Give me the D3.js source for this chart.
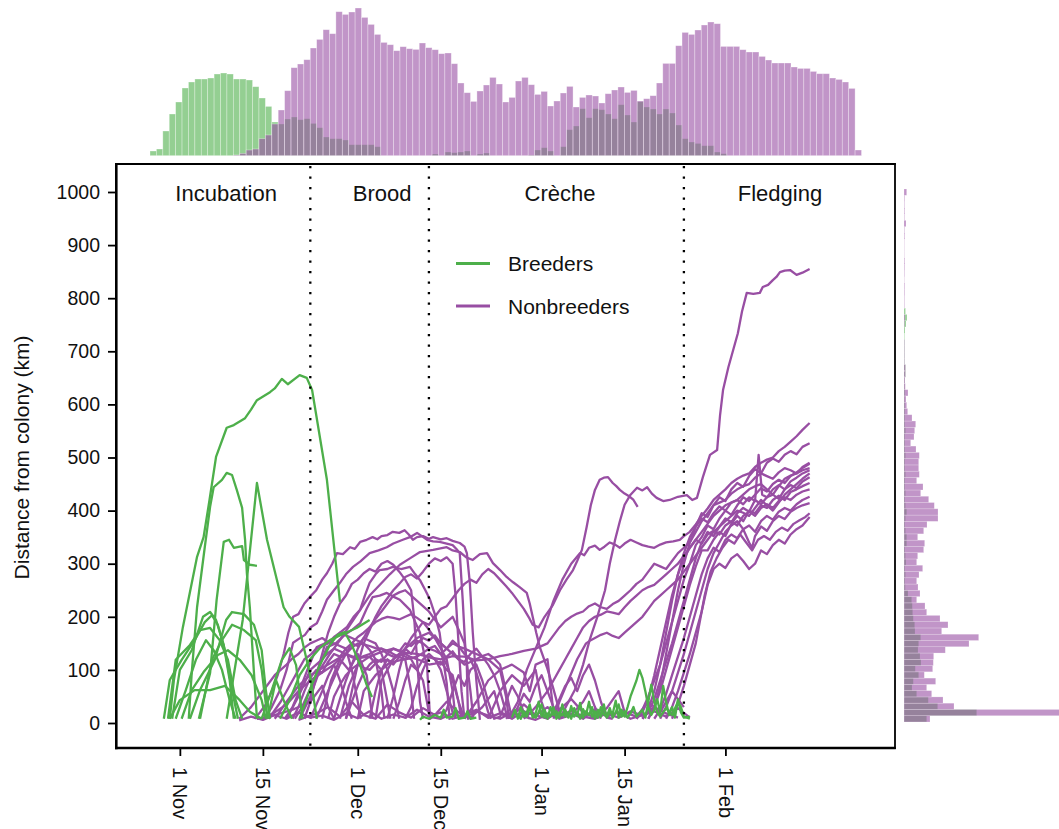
<!DOCTYPE html>
<html>
<head>
<meta charset="utf-8">
<title>Distance from colony</title>
<script src="https://d3js.org/d3.v7.min.js"></script>
<style>
  body { margin: 0; background: #fff; }
  svg text { font-family: "Liberation Sans", Arial, Helvetica, sans-serif; fill: #111; }
</style>
</head>
<body>
<script>
// ---- axis / annotation data ----
var tickDays = [0, 14, 30, 44, 61, 75, 92];          // days since 1 Nov
var tickLabels = ["1 Nov", "15 Nov", "1 Dec", "15 Dec", "1 Jan", "15 Jan", "1 Feb"];
var yTicks = [0, 100, 200, 300, 400, 500, 600, 700, 800, 900, 1000];
var phaseBounds = [22, 42, 85];
var phaseNames = ["Incubation", "Brood", "Crèche", "Fledging"];
var phaseLabelDays = [7.8, 34.1, 64.1, 101.2];
var legendNames = ["Breeders", "Nonbreeders"];

// ---- top marginal histogram (daily bins, first bin = day -4) ----
var topStartDay = -4;
var breedersTop = [4.7,6.7,24.7,41.7,53.7,67.7,73.7,76.7,76.7,77.7,81.7,82.7,81.7,76.7,76.7,75.7,69,57.7,49.3,33.7,
  31.7,36.7,38.7,36,37,32.3,28,18.7,17,17,15.7,11,11,11,11,9,0,0,0,0,
  0,0,0,0,1.7,0,3.7,3,3.7,4.7,0,1.7,2.7,0,0,0,0,0,0,0.7,
  5.7,8,4.7,0,9,26,29.7,47,38,47,46,41.7,37,51,40.7,33.7,54,48.7,46.7,41.7,
  46.7,42.7,30.7,17,13.7,12.3,10,10,3.7,2,0,0,0,0,0,0,0,0,0,0,
  0,0,0,0,0,0,0,0,0,0,0];
var nonbreedersTop = [0,0,0,0,0,0,0,0,0,0,0,0,0,0.7,2.3,5.7,6.7,17,20.7,31.7,
  45.7,65,88,91.7,96,107.7,116.3,126,122,144,141.3,143.7,147.7,138.3,131.3,121.3,113.3,111,105,109,
  107,106.3,112.7,108,106,102,102.7,92,72.7,63,54.3,64.7,70.7,78.3,71.7,53.7,58.3,74.7,78.3,71,
  61.3,64.3,49.7,54.7,62.7,69.3,48.7,58.3,60.7,59.7,52.7,62,65.7,68.7,63.3,65.3,54.7,57,60,72.7,
  92.3,92.3,110,123.3,121.3,125.7,130.7,133.7,132,109.3,109.3,109.3,106,103.7,103.7,99.3,95.7,92.7,92.7,92.7,
  88.7,87.3,87.3,84.3,82,82,77.7,76.3,73.7,67.3,5.7];

// ---- right marginal histogram (10 km bins from 0 km) ----
var breedersRight = [22.7,72.7,33.7,24.3,12.7,8,9.3,14.7,11.3,17,16,14,14.7,16.7,11,10.7,9.3,8.7,8.3,7.7,
  4,1.3,1,1.5,1,2,1.5,1,2.7,2.7,1.5,1,1.5,2.7,1.5,1,1.5,1,1,1.5,
  1,1,1.5,1,1,1,1.5,1,1,1,1,0.7,1,0.7,0.7,1.5,1.5,0.5,0.5,0.5,
  0.5,0.5,1,2,3,1.5,0,0,0,0,0,0,0,0,0,0,0,0,0,0,0,0,0,0,0];
var nonbreedersRight = [26,160,50,39,27.7,22.7,31.7,20.3,28.7,29.3,29.7,41.3,65,74.7,37.7,44,36,22.7,21,12.7,
  16,14,12.7,15,18.7,12.7,13.7,19.7,20.7,13.7,19.7,23,34,34,30.3,24.7,16.7,19,12.7,15.3,
  14.7,14.7,15.3,12,6.7,10,10.7,11.7,8,3.7,2.7,2,4,1.3,1,1.5,1.5,0.5,0.5,0.5,
  0.5,0,0,0.5,1,0,0.5,0.5,0.7,0.7,0.3,0.5,0.7,0.7,0.3,0.3,0.3,0.7,0.5,2,0.5,0.7,0.5,0.7,2.7];

// ---- breeder tracks [day since 1 Nov, km] ----
var b1 = [[-1.7,8],[-1,81],[0.5,180],[2.9,313],[4,350],[5,420],[6.1,501],[7.9,556],[9.1,561],[11,574],[12,590],[13,608],[15.2,623],[16,630],[17.2,648],[18.2,638],[20.2,655],[21.4,650],[22.3,627],[24.8,458],[27,228]];
var b2 = [[1.5,8],[2,94],[2.9,218],[4.2,331],[5.1,407],[5.7,444],[7.1,458],[7.9,471],[8.8,467],[9.6,439],[10.5,405],[11,345],[11.3,282],[11.8,218],[12.5,94],[13,8]];
var b3 = [[7.9,8],[10.6,194],[13,452],[14.7,345],[17.5,218],[18.5,200],[20.1,181],[21.9,94],[23.1,8]];
var b4 = [[3.2,8],[5.1,94],[6.2,232],[7.4,341],[8.3,345],[9.1,330],[10.5,333],[10.8,307],[11.8,298],[13,296]];
var b5 = [[-2.7,8],[-1.7,81],[0.3,119],[2.5,156],[4.2,190],[5.4,203],[6.4,185],[7.6,137],[8.8,62],[9.8,8]];
var b6 = [[-2,8],[-0.7,119],[1.7,147],[3.4,175],[5.1,179],[6.7,156],[8.1,119],[9.4,43],[10.5,8]];
var b7 = [[-1.3,8],[0,100],[2,137],[3.9,200],[5.1,209],[6.1,194],[7.4,147],[8.4,81],[9.1,8]];
var b8 = [[-0.7,8],[1,62],[2.7,119],[4.4,156],[5.7,137],[7.1,100],[8.4,43],[9.4,8]];
var b9 = [[1.7,8],[3.4,62],[5.9,119],[7.8,194],[8.8,209],[10.8,205],[12.5,185],[13.8,137],[14.5,62],[15.2,8]];
var b10 = [[3.4,8],[5.4,119],[7.1,156],[8.8,185],[10.8,175],[12.8,156],[13.8,100],[14.8,8]];
var b11 = [[0.3,8],[2,62],[4,96],[6.4,128],[8.1,137],[10.1,119],[12.1,90],[13.8,43],[14.5,8]];
var b12 = [[-1.7,8],[0,43],[2.5,62],[5.1,62],[7.6,70],[10.1,43],[11.8,21],[13.8,8]];
var b13 = [[13.8,8],[15.5,62],[17.2,119],[18.5,141],[19.6,109],[20.7,8]];
var b14 = [[16.9,8],[18.5,43],[20.2,90],[21.9,119],[23.6,141],[25.3,156],[27.8,169],[29.8,179],[32,194]];
var b15 = [[20.2,8],[21.9,62],[23.6,109],[25.3,147],[26.6,166],[27.8,171],[29,147],[30.4,109],[31.5,72],[32.4,49]];
var b16 = [[14.8,8],[16.2,81],[17.5,43],[18.9,8]];
var b17 = [[40.5,6],[41,12],[42,8],[43,15],[44,10],[44.5,25],[45,10],[46,12],[46.5,28],[47,8],[48,10],[48.5,22],[49,8],[50,10]];
var b18 = [[56,10],[56.5,25],[57,8],[57.5,30],[58,12],[58.5,20],[59,35],[59.5,10],[60,18],[60.5,40],[61,12],[61.5,25],[62,8],[62.5,30],[63,15],[63.5,22],[64,10],[64.5,35],[65,12],[65.5,20],[66,8],[66.5,28],[67,14],[67.5,38],[68,10],[68.5,22],[69,15],[69.5,30],[70,8],[70.5,25],[71,12],[71.5,35],[72,10],[72.5,20],[73,18],[73.5,42],[74,10],[74.5,25],[75,12],[75.5,30],[76,50],[77,80],[77.5,100],[78,85],[78.5,60],[79,30],[79.5,15],[80,25],[80.5,45],[81,20],[81.5,70],[82,40],[82.5,15],[83,30],[83.5,10],[84,45],[84.5,20],[85,10],[86,12]];
var b19 = [[57,15],[57.5,8],[58,22],[58.5,12],[59,28],[59.5,15],[60,10],[60.5,20],[61,35],[61.5,10],[62,18],[62.5,12],[63,30],[63.5,8],[64,20],[64.5,14],[65,25],[65.5,10],[66,32],[66.5,12],[67,20],[67.5,8],[68,26],[68.5,15],[69,40],[69.5,12],[70,22],[70.5,10],[71,30],[71.5,16],[72,12],[72.5,28],[73,10],[73.5,20],[74,35],[74.5,12],[75,22],[75.5,10],[76,18],[76.5,30],[77,12],[78,25],[78.5,10],[79,40],[79.5,72],[80,40],[80.5,20],[81,12],[82,28],[83,15],[84,40],[84.5,30],[85,12],[86,8]];
var breederTracks = [b1,b2,b3,b4,b5,b6,b7,b8,b9,b10,b11,b12,b13,b14,b15,b16,b17,b18,b19];

// ---- nonbreeder tracks [day since 1 Nov, km] ----
var n1 = [[12.6,8],[13.5,20],[14.5,35],[15.5,60],[16.5,90],[17.5,130],[18.3,170],[19.1,200],[20,205],[21,225],[21.9,237],[23,250],[24,270],[24.8,282],[25.7,300],[26.5,320],[27.5,318],[28.7,331],[29.5,328],[30.4,341],[31.5,345],[32.5,350],[33.3,346],[34,352],[35,354],[35.9,360],[37,358],[37.9,363],[38.6,355],[39.3,345],[40,350],[41,352],[42,347],[42.7,350],[44,346],[45,348],[46,343],[47.2,339],[48,332],[48.4,320],[48.9,264],[49.4,170],[50,80],[50.6,6]];
var n2 = [[14.3,8],[15.5,30],[16.9,62],[18,100],[19.1,151],[20,158],[21.1,166],[22,180],[23.1,188],[24,210],[24.8,232],[26,250],[27,264],[28,280],[29.2,294],[30.5,305],[32,320],[33.5,325],[34.9,331],[36,338],[37.6,345],[38.8,350],[40,358],[40.8,352],[41.7,345],[42.7,342],[43.8,341],[45,338],[46,335],[46.6,328],[47.2,320],[47.7,232],[48.1,150],[48.4,105],[48.6,6]];
var n3 = [[17.7,8],[19,30],[20.2,62],[21.5,100],[23.1,143],[24.5,150],[25.8,156],[27,170],[28.2,181],[29.3,200],[30.4,213],[31.2,240],[32,264],[33,280],[33.7,288],[35,290],[35.9,294],[37.3,290],[38.8,294],[39.7,280],[40.5,269],[41.4,250],[42.2,232],[43,205],[43.8,170],[44.4,120],[45,75],[45.5,6]];
var n4 = [[19.4,8],[20.6,30],[21.9,62],[23.3,100],[24.8,143],[26.3,150],[27.8,166],[29,175],[30.4,188],[31.5,215],[32.5,237],[33.7,240],[34.9,245],[36,238],[37.1,232],[38,222],[38.8,213],[39.7,190],[40.5,170],[41.2,130],[41.7,105],[42.2,6]];
var n5 = [[20.2,8],[22,50],[23.6,100],[25.3,130],[27,156],[28.7,185],[30.4,213],[32,240],[33.7,260],[35.4,280],[37.1,298],[38.8,310],[40.5,322],[42.7,326],[45,331],[46,325],[47.2,322],[48.3,312],[49.4,307],[50.6,318],[51.8,320],[52.8,301],[54,288],[55.1,275],[56.2,265],[57.3,256],[58.5,245],[59,225],[59.5,200],[60.1,170],[60.7,143],[61.9,105],[62.9,68],[64.1,19]];
var n6 = [[10,8],[12,30],[14,60],[16,90],[17,100],[18,110],[19,122],[20,130],[21,142],[22,150],[23,155],[24,160],[25,152],[26,150],[27,145],[28,140],[29,100],[30,40],[30.5,8]];
var n7 = [[15,8],[17,40],[19,80],[20,100],[21,120],[22,128],[23,140],[24,145],[25,150],[26,162],[27,170],[28,165],[29,160],[30,155],[31,150],[32,138],[33,120],[34,60],[34.5,8]];
var n8 = [[18,8],[20,50],[21,75],[22,100],[23,110],[24,120],[25,132],[26,140],[27,135],[28,130],[29,142],[30,150],[31,148],[32,145],[33,141],[34,140],[35,136],[36,130],[37,124],[38,120],[39,60],[39.5,8]];
var n9 = [[22,8],[24,60],[25,88],[26,110],[27,122],[28,130],[29,124],[30,120],[31,126],[32,130],[33,136],[34,140],[35,130],[36,125],[37,128],[38,130],[39,124],[40,120],[41,116],[42,110],[43,112],[44,115],[45,100],[46,90],[47,40],[47.5,8]];
var n10 = [[25,8],[26,50],[27,72],[28,90],[29,102],[30,110],[31,104],[32,100],[33,112],[34,120],[35,118],[36,115],[37,118],[38,120],[39,122],[40,125],[41,132],[42,140],[43,136],[44,130],[45,140],[46,150],[47,144],[48,140],[49,135],[50,130],[51,125],[52,120],[53,110],[54,100],[55,50],[55.5,8]];
var n11 = [[13,8],[16,15],[19,25],[22,40],[24,70],[25,30],[26,8]];
var n12 = [[24,8],[25.5,80],[27,120],[28.5,100],[30,130],[31.5,90],[32.5,8]];
var n13 = [[27,8],[28.5,70],[30,110],[32,125],[34,100],[35,40],[35.5,8]];
var n14 = [[30,8],[31,60],[33,90],[35,110],[37,130],[39,120],[41,80],[42,20],[42.5,8]];
var n15 = [[33,8],[34,80],[35,100],[36,120],[37,130],[38,140],[39,150],[40,160],[41,165],[42,170],[43,160],[44,150],[45,140],[46,130],[47,120],[48,110],[49,115],[50,120],[51,126],[52,130],[53,122],[54,110],[55,60],[56,8]];
var n16 = [[16,8],[18,40],[20,70],[22,90],[25,110],[28,130],[30,122],[32,125],[34,134],[36,140],[38,132],[40,130],[42,124],[44,120],[46,126],[48,125],[50,118],[52,120],[54,126],[56,130],[58,136],[60,140],[62,150],[64,180],[65,192],[66,200],[67,206],[68,210],[69,220],[70,225],[71,218],[72,215],[73,224],[74,230],[75,240],[76,250],[77,262],[78,270],[79,285],[80,300],[81,295],[82,290],[83,305],[84,320],[85,330],[86,340],[87,360],[88,380],[89,395],[90,410],[91,415],[92,420],[93,432],[94,440],[95,446],[96,450],[97,462],[98,470],[99,465],[100,460],[101,472],[102,480],[103,476],[104,470],[105,482],[106.2,490]];
var n17 = [[23,8],[25,60],[26,85],[27,110],[28,130],[29,150],[30,162],[31,170],[32,180],[33,190],[34,196],[35,200],[36,198],[37,195],[38,200],[39,205],[40,198],[41,190],[42,176],[43,160],[44,140],[45,120],[46,60],[46.5,8]];
var n18 = [[26,8],[27,45],[28,80],[29,110],[30,140],[31,160],[32,180],[33,196],[34,210],[35,225],[36,240],[37,246],[38,250],[39,240],[40,230],[41,220],[42,210],[43,195],[44,180],[45,190],[46,200],[47,176],[48,150],[49,60],[49.5,8]];
var n19 = [[35,8],[36,50],[37,100],[38,140],[39,160],[40,175],[41,190],[42,185],[43,200],[44,215],[45,220],[46,235],[47,250],[48,262],[49,270],[50,264],[51,280],[52,290],[53,282],[54,270],[55,258],[56,245],[57,230],[58,215],[59,196],[59.5,185],[60.5,180],[61.5,200],[62.9,222],[64.1,250],[65.2,270],[66.3,288],[67,305],[67.8,326],[68.6,369],[69.3,410],[70,439],[70.8,458],[71.5,462],[72.2,463],[73,452],[73.6,446],[74.2,439],[75,432],[75.9,426],[76.5,420],[77.2,407]];
var n20 = [[64.1,9],[65.3,35],[66.6,62],[68,110],[69.1,156],[70.4,200],[71.7,250],[72.5,300],[73.4,345],[74.2,380],[75,411],[76,430],[77.1,443],[78,438],[78.8,444],[79.6,432],[80.4,424],[81.5,418],[82.6,420],[84,426],[85.5,429],[86.4,420],[87.2,424],[88.2,463],[89.4,505],[90.6,514],[91.1,580],[91.6,627],[92.5,670],[93.3,702],[94.1,734],[94.8,775],[95.6,810],[96.7,808],[97.8,810],[98.3,821],[99.2,825],[100,834],[100.6,840],[101.2,849],[102,852],[102.9,853],[104,844],[105,848],[106.2,855]];
var n21 = [[55,8],[56,20],[57,40],[58.5,100],[60,140],[61.5,180],[63,230],[64.5,270],[66,300],[67.5,320],[68.2,316],[69,330],[70,334],[70.8,326],[71.6,332],[72.5,340],[73.4,336],[74.2,330],[75,338],[76,345],[77,340],[78,335],[79,332],[80,330],[81,336],[82,340],[83.2,342],[84.3,345],[85,352],[86,360],[87,374],[88,390],[89,404],[90,420],[91,430],[92,440],[93,452],[94,460],[95,466],[96,470],[97,482],[98,490],[99,496],[100,500],[101,512],[102,520],[103,530],[104,540],[105,552],[106.2,565]];
var n22 = [[58,8],[59,18],[60,30],[61,45],[62,60],[63,80],[64,100],[65,120],[66,140],[67,160],[68,180],[69,192],[70,200],[71,204],[72,210],[73,208],[74,205],[75,218],[76,230],[77,240],[78,250],[79,256],[80,260],[81,270],[82,280],[83,290],[84,300],[85,315],[86,330],[87,345],[88,360],[89,375],[90,390],[91,400],[92,410],[93,415],[94,420],[95,430],[96,440],[97,446],[98,450],[99,440],[100,430],[101,446],[102,460],[103,466],[104,470],[105,476],[106.2,480]];
var n23 = [[63,8],[64,40],[65.5,80],[67,120],[68.5,150],[69.3,156],[70,160],[71,166],[72,170],[73,164],[74,160],[75,170],[76,180],[77,190],[78,200],[79,215],[80,230],[81,240],[82,250],[83,260],[84,270],[85,285],[86,300],[87,315],[88,330],[89,345],[90,360],[91,370],[92,380],[93,390],[94,400],[95,396],[96,390],[97,405],[98,420],[99,410],[100,400],[101,415],[102,430],[103,440],[104,450],[105,460],[106.2,470]];
var n24 = [[78,8],[79,25],[80,60],[81,110],[82,170],[83,230],[84,280],[85,320],[86,350],[87,370],[88,395],[89,388],[90,410],[91,425],[92,418],[93,440],[94,452],[95,445],[96,465],[97,478],[98,470],[99,490],[100,498],[101,492],[102,505],[103,512],[104,506],[105,520],[106.2,527]];
var n25 = [[77,8],[78,25],[79,50],[80,80],[81,110],[82,150],[83,190],[84,230],[85,270],[86,300],[87,335],[88,350],[89,372],[90,365],[91,385],[92,400],[93,392],[94,410],[95,425],[96,418],[97,430],[98,442],[99,436],[100,450],[101,458],[102,452],[103,465],[104,472],[105,480],[106.2,488]];
var n26 = [[78,8],[79,20],[80,45],[81,80],[82,115],[83,150],[84,190],[85,230],[86,270],[87,310],[88,340],[89,360],[90,352],[91,370],[92,385],[93,378],[94,395],[95,405],[96,398],[97,420],[98,412],[99,425],[100,430],[101,422],[102,440],[103,448],[104,442],[105,455],[106.2,463]];
var n27 = [[79,8],[80,30],[81,60],[82,100],[83,140],[84,180],[85,220],[86,260],[87,295],[88,325],[89,325],[90,345],[91,360],[92,352],[93,375],[94,390],[95,380],[96,400],[97,395],[98,410],[99,405],[100,420],[101,428],[102,420],[103,435],[104,440],[105,446],[106.2,452]];
var n28 = [[80,8],[81,25],[82,55],[83,90],[84,125],[85,160],[86,200],[87,240],[88,280],[89,310],[90,330],[91,322],[92,345],[93,355],[94,348],[95,365],[96,372],[97,360],[98,380],[99,390],[100,383],[101,398],[102,405],[103,400],[104,412],[105,420],[106.2,426]];
var n29 = [[81,8],[82,30],[83,60],[84,95],[85,130],[86,170],[87,210],[88,250],[89,290],[90,320],[91,340],[92,360],[93,372],[94,380],[95,365],[96,340],[96.5,330],[97,352],[98,370],[99,362],[100,380],[101,390],[102,384],[103,398],[104,405],[105,410],[106.2,414]];
var n30 = [[82,8],[83,30],[84,60],[85,95],[86,130],[87,170],[88,210],[88.5,240],[89.5,285],[90.5,310],[91.5,330],[92.5,345],[93.5,338],[94.5,355],[95.5,340],[96.5,325],[97.5,345],[98.5,352],[99.5,345],[100.5,360],[101.5,368],[102.5,362],[103.5,375],[104.5,382],[105.5,388],[106.2,395]];
var n31 = [[83,8],[84,35],[85,70],[86,110],[87,150],[88,210],[89,260],[90,290],[91,300],[92,292],[93,310],[94,318],[95,305],[96,290],[97,300],[98,325],[99,318],[100,335],[101,345],[102,338],[103,355],[104,365],[105,372],[106.2,388]];
var n32 = [[79,8],[80,30],[81,70],[82,130],[83,190],[84,250],[85,300],[86,340],[87,370],[88,385],[89,378],[90,395],[91,408],[92,400],[93,415],[94,420],[95,412],[96,425],[97,418],[97.6,505],[98.2,430],[99,425],[100,440],[101,448],[102,440],[103,455],[104,462],[105,470],[106.2,476]];
var n33 = [[77,8],[78,20],[79,45],[80,90],[81,140],[82,190],[83,240],[84,280],[85,310],[86,330],[87,345],[88,338],[89,355],[90,362],[91,355],[92,372],[93,380],[94,372],[95,390],[96,398],[97,390],[98,405],[99,412],[100,405],[101,418],[102,425],[103,420],[104,430],[105,436],[106.2,440]];
var n34 = [[10,5],[12,12],[14,6],[16,15],[18,8],[20,20],[22,10],[24,14],[26,6],[28,18],[30,9],[32,22],[34,8],[36,16],[38,10],[40,25],[42,12],[44,8],[46,18],[48,10],[50,22],[52,14],[54,8],[56,20],[58,12],[60,6],[62,16],[64,10],[66,24],[68,12],[70,8],[72,18],[74,10],[76,22],[78,14],[80,30],[82,18],[84,10]];
var n35 = [[20,6],[23,18],[25,30],[27,12],[29,40],[31,15],[33,8],[35,35],[37,20],[39,10],[41,28],[43,15],[45,40],[47,20],[49,10],[51,30],[53,60],[54,20],[56,12],[58,35],[60,15],[62,8],[64,25],[66,45],[68,20],[70,10],[72,28],[74,60],[75,20],[77,12],[79,40],[81,20],[83,60],[85,30]];
var n36 = [[48,8],[50,40],[52,80],[54,100],[56,110],[58,95],[59,60],[60,110],[62,120],[63,20],[64,8]];
var n37 = [[52,8],[54,60],[56,90],[58,70],[60,100],[61,40],[62,8]];
var n38 = [[21,8],[22,40],[23,90],[24,130],[25,170],[26,200],[27,225],[28,240],[29,262],[30,270],[31,282],[32,290],[33,285],[34,300],[35,305],[36,298],[37,285],[38,270],[39,250],[39.5,200],[40,120],[40.5,40],[41,8]];
var n39 = [[28,8],[29,60],[30,110],[31,150],[32,175],[33,200],[34,220],[35,235],[36,250],[37,262],[38,275],[39,280],[40,272],[41,285],[42,300],[43,310],[44,305],[45,312],[46,300],[46.5,240],[47,150],[47.5,60],[48,8]];
var n41 = [[19,8],[20,30],[21,60],[22,85],[23,100],[24,95],[25,115],[26,130],[27,125],[28,140],[29,150],[30,145],[31,160],[32,155],[33,150],[34,130],[35,100],[36,60],[37,8]];
var n42 = [[28,8],[29,40],[30,70],[31,95],[32,110],[33,120],[34,115],[35,130],[36,140],[37,135],[38,150],[39,145],[40,155],[41,150],[42,140],[43,145],[44,130],[45,110],[46,80],[47,40],[48,8]];
var n43 = [[32,8],[33,60],[34,100],[35,120],[36,110],[37,125],[38,140],[39,130],[40,150],[41,160],[42,155],[43,165],[44,150],[45,140],[46,155],[47,145],[48,130],[49,120],[50,95],[51,60],[52,20],[52.5,8]];
var n44 = [[36,8],[37,40],[38,80],[39,110],[40,100],[41,120],[42,130],[43,120],[44,100],[45,60],[46,20],[46.5,8]];
var n45 = [[14,8],[16,20],[18,35],[20,60],[22,80],[24,95],[26,110],[27,80],[28,40],[29,8]];
var n46 = [[38,8],[39,30],[40,70],[41,100],[42,125],[43,120],[44,110],[45,125],[46,135],[47,120],[48,115],[49,130],[50,140],[51,125],[52,110],[53,90],[54,60],[55,20],[55.5,8]];
var n47 = [[44,8],[45,25],[46,60],[47,90],[48,70],[49,100],[50,110],[51,80],[52,40],[53,8],[54,12],[55,40],[56,70],[57,50],[58,20],[59,8]];
var n48 = [[56,8],[57,30],[58,55],[59,40],[60,70],[61,90],[62,60],[63,30],[64,8],[66,15],[68,40],[69,60],[70,30],[71,8]];
var n49 = [[62,8],[63,20],[64,45],[65,70],[66,85],[67,60],[68,90],[69,110],[70,80],[71,40],[72,10],[73,8]];
var n50 = [[42,12],[44,20],[46,8],[48,15],[50,25],[52,10],[54,18],[56,8],[58,22],[60,14],[62,30],[64,10],[66,18],[68,8],[70,26],[72,12],[74,20],[76,8],[78,15],[80,22],[82,12],[84,28],[86,10]];
var nonbreederTracks = [n1,n2,n3,n4,n5,n6,n7,n8,n9,n10,n11,n12,n13,n14,n15,n16,n17,n18,n19,n20,
  n21,n22,n23,n24,n25,n26,n27,n28,n29,n30,n31,n32,n33,n34,n35,n36,n37,n38,n39,
  n41,n42,n43,n44,n45,n46,n47,n48,n49,n50];

var green = "#4daf4a", purple = "#984ea3";
var width = 1059, height = 829;

var svg = d3.select("body").append("svg")
    .attr("width", width)
    .attr("height", height);

// main panel
var plot = {left: 117, right: 895, top: 164, bottom: 748};
var x = d3.scaleLinear().domain([-10.6, 120.6]).range([plot.left, plot.right]);
var y = d3.scaleLinear().domain([-45.2, 1054.6]).range([747, 163]);

// marginal scales
var xTop = d3.scaleLinear().domain([topStartDay, topStartDay + breedersTop.length]).range([150, 861.5]);
var yTop = d3.scaleLinear().domain([0, 150]).range([155.7, 5.7]);
var yRight = d3.scaleLinear().domain([0, 850]).range([722, 189]);
var xRight = d3.scaleLinear().domain([0, 160]).range([904, 1064]);

// top histogram
function topBars(vals, col) {
  svg.append("g").selectAll("rect")
    .data(vals.map(function(v, i) { return {day: topStartDay + i, v: v}; }).filter(function(d) { return d.v > 0; }))
    .enter().append("rect")
      .attr("x", function(d) { return xTop(d.day); })
      .attr("width", xTop(1) - xTop(0))
      .attr("y", function(d) { return yTop(d.v); })
      .attr("height", function(d) { return yTop(0) - yTop(d.v); })
      .attr("fill", col)
      .attr("fill-opacity", 0.6)
      .attr("stroke", "#fff")
      .attr("stroke-opacity", 0.45)
      .attr("stroke-width", 0.7);
}
topBars(breedersTop, green);
topBars(nonbreedersTop, purple);

// right histogram
function rightBars(vals, col) {
  svg.append("g").selectAll("rect")
    .data(vals.map(function(v, i) { return {km: i * 10, v: v}; }).filter(function(d) { return d.v > 0; }))
    .enter().append("rect")
      .attr("x", xRight(0))
      .attr("width", function(d) { return xRight(d.v) - xRight(0); })
      .attr("y", function(d) { return yRight(d.km + 10); })
      .attr("height", function(d) { return yRight(d.km) - yRight(d.km + 10); })
      .attr("fill", col)
      .attr("fill-opacity", 0.6)
      .attr("stroke", "#fff")
      .attr("stroke-opacity", 0.35)
      .attr("stroke-width", 0.6);
}
rightBars(breedersRight, green);
rightBars(nonbreedersRight, purple);

// clip for tracks
svg.append("clipPath").attr("id", "clip")
  .append("rect")
    .attr("x", plot.left).attr("y", plot.top)
    .attr("width", plot.right - plot.left).attr("height", plot.bottom - plot.top);

var line = d3.line()
    .x(function(d) { return x(d[0]); })
    .y(function(d) { return y(d[1]); });

var tracks = svg.append("g").attr("clip-path", "url(#clip)");

tracks.selectAll("path.nb")
  .data(nonbreederTracks)
  .enter().append("path")
    .attr("class", "nb")
    .attr("d", line)
    .attr("fill", "none")
    .attr("stroke", purple)
    .attr("stroke-width", 2.3)
    .attr("stroke-linejoin", "round");

tracks.selectAll("path.br")
  .data(breederTracks)
  .enter().append("path")
    .attr("class", "br")
    .attr("d", line)
    .attr("fill", "none")
    .attr("stroke", green)
    .attr("stroke-width", 2.3)
    .attr("stroke-linejoin", "round");

// phase boundaries
svg.append("g").selectAll("line")
  .data(phaseBounds)
  .enter().append("line")
    .attr("x1", function(d) { return x(d); })
    .attr("x2", function(d) { return x(d); })
    .attr("y1", plot.top + 2)
    .attr("y2", plot.bottom - 1)
    .attr("stroke", "#000")
    .attr("stroke-width", 2.3)
    .attr("stroke-dasharray", "2.3,8.2");

// phase labels
svg.append("g").selectAll("text")
  .data(phaseNames)
  .enter().append("text")
    .attr("x", function(d, i) { return x(phaseLabelDays[i]); })
    .attr("y", 193)
    .attr("dy", "0.35em")
    .attr("text-anchor", "middle")
    .style("font-size", "22px")
    .text(function(d) { return d; });

// legend
var leg = svg.append("g");
leg.selectAll("line")
  .data(legendNames)
  .enter().append("line")
    .attr("x1", 456).attr("x2", 490)
    .attr("y1", function(d, i) { return 263.5 + i * 42.5; })
    .attr("y2", function(d, i) { return 263.5 + i * 42.5; })
    .attr("stroke", function(d, i) { return i === 0 ? green : purple; })
    .attr("stroke-width", 3);
leg.selectAll("text")
  .data(legendNames)
  .enter().append("text")
    .attr("x", 508)
    .attr("y", function(d, i) { return 264 + i * 42.5; })
    .attr("dy", "0.35em")
    .style("font-size", "21px")
    .text(function(d) { return d; });

// frame
var frame = svg.append("g").attr("stroke", "#000").attr("fill", "none");
frame.append("line").attr("x1", 116.3).attr("x2", 116.3).attr("y1", 163).attr("y2", 749.2).attr("stroke-width", 2.6);
frame.append("line").attr("x1", 115).attr("x2", 895.8).attr("y1", 748).attr("y2", 748).attr("stroke-width", 2.6);
frame.append("line").attr("x1", 115).attr("x2", 895.8).attr("y1", 164).attr("y2", 164).attr("stroke-width", 1.8);
frame.append("line").attr("x1", 895).attr("x2", 895).attr("y1", 163).attr("y2", 749).attr("stroke-width", 1.8);

// y axis
var yAxis = svg.append("g")
    .attr("transform", "translate(116,0)")
    .call(d3.axisLeft(y).tickValues(yTicks).tickSize(8).tickPadding(8).tickFormat(d3.format("d")));
yAxis.select(".domain").remove();
yAxis.selectAll(".tick line").attr("stroke", "#000").attr("stroke-width", 1.8);
yAxis.selectAll(".tick text")
    .style("font-size", "19.5px")
    .attr("fill", "#111");

// x axis
var xAxis = svg.append("g")
    .attr("transform", "translate(0,749)")
    .call(d3.axisBottom(x).tickValues(tickDays).tickSize(7)
      .tickFormat(function(d, i) { return tickLabels[i]; }));
xAxis.select(".domain").remove();
xAxis.selectAll(".tick line").attr("stroke", "#000").attr("stroke-width", 1.8);
xAxis.selectAll(".tick text")
    .attr("transform", "rotate(90)")
    .attr("x", 18)
    .attr("y", 0)
    .attr("dy", "0.35em")
    .attr("text-anchor", "start")
    .style("font-size", "20px")
    .attr("fill", "#111");

// y title
svg.append("text")
    .attr("transform", "translate(22," + y(500) + ") rotate(-90)")
    .attr("text-anchor", "middle")
    .attr("dy", "0.35em")
    .style("font-size", "21px")
    .text("Distance from colony (km)");
</script>
</body>
</html>
